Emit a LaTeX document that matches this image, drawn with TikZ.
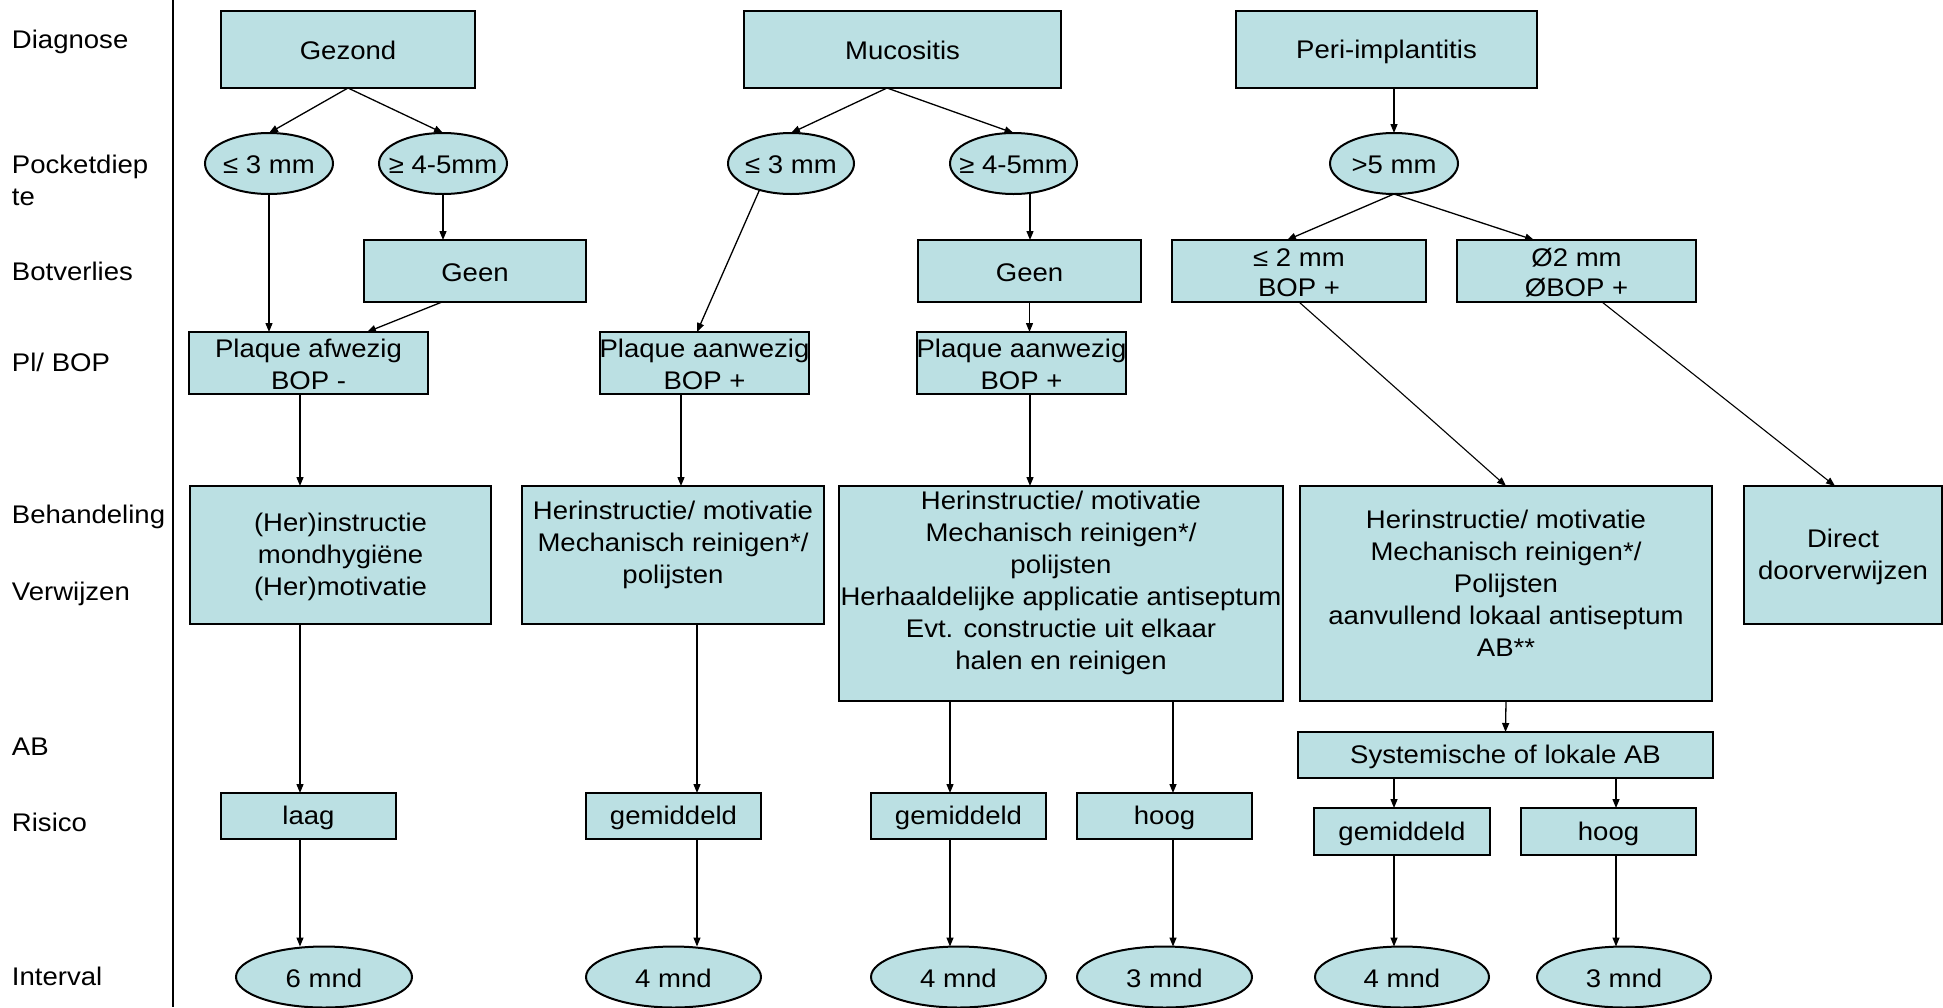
\documentclass[tikz,border=0pt]{standalone}
\usepackage{fontspec}
\setmainfont{Liberation Sans}[FakeStretch=1.08]
\usetikzlibrary{arrows.meta,shapes.geometric}
\definecolor{boxfill}{HTML}{BBE0E3}
\newcommand{\ovtxt}[1]{\makebox[0pt]{#1}}
\newcommand{\topstrut}{\rule[-3pt]{0pt}{26pt}}
\newcommand{\botstrut}{\rule[-3pt]{0pt}{0pt}}
\begin{document}
\begin{tikzpicture}[x=1pt,y=-1pt,
  font=\fontsize{25.5}{32}\selectfont,
  every node/.style={inner sep=0pt, outer sep=0pt, execute at begin node=\topstrut, execute at end node=\botstrut},
  box/.style={draw=black, line width=2pt, fill=boxfill, rectangle, align=center},
  oval/.style={draw=black, line width=2pt, fill=boxfill, ellipse, align=center},
  lab/.style={anchor=west, align=left},
  txt/.style={align=center},
  arr/.style={-{Triangle[length=9pt,width=7pt]}, line width=1.3pt},
  thinarr/.style={-{Triangle[length=9pt,width=7pt]}, line width=1.1pt}]
\fill[white] (0,0) rectangle (1943,1007);
\useasboundingbox (0,0) rectangle (1943,1007);

% row labels
\node[lab] (lDiag) at (12,40) {Diagnose};
\node[lab] (lPock) at (12,179) {\topstrut Pocketdiep\\te};
\node[lab] (lBot) at (12,270) {Botverlies};
\node[lab] (lPl) at (12,361) {Pl/ BOP};
\node[lab] (lBeh) at (12,515) {Behandeling};
\node[lab] (lVer) at (12,592) {Verwijzen};
\node[lab] (lAB) at (12,745) {AB};
\node[lab] (lRis) at (12,821) {Risico};
\node[lab] (lInt) at (12,975) {Interval};
\draw[line width=2pt] (173,0) -- (173,1007);

% column 1: Gezond
\node[box, minimum width=254, minimum height=77] (gez) at (348,49.5) {Gezond};
\node[oval, minimum width=128, minimum height=61] (e1a) at (269,163.5) {\ovtxt{≤ 3 mm}};
\node[oval, minimum width=128, minimum height=61] (e1b) at (443,163.5) {\ovtxt{≥ 4-5mm}};
\node[box, minimum width=222, minimum height=62] (geen1) at (475,271) {Geen};
\node[box, minimum width=239, minimum height=62] (pl1) at (308.5,363) {\topstrut Plaque afwezig\\BOP -};
\node[box, minimum width=301, minimum height=138] (beh1) at (340.5,555) {\topstrut (Her)instructie\\mondhygiëne\\(Her)motivatie};
\node[box, minimum width=175, minimum height=46] (laag) at (308.5,816) {laag};
\node[oval, minimum width=176, minimum height=61] (i1) at (324,977) {\ovtxt{6 mnd}};

% column 2: Mucositis
\node[box, minimum width=317, minimum height=77] (muc) at (902.5,49.5) {Mucositis};
\node[oval, minimum width=126, minimum height=61] (e2a) at (791,163.5) {\ovtxt{≤ 3 mm}};
\node[oval, minimum width=127, minimum height=61] (e2b) at (1013.5,163.5) {\ovtxt{≥ 4-5mm}};
\node[box, minimum width=223, minimum height=62] (geen2) at (1029.5,271) {Geen};
\node[box, minimum width=207, minimum height=62] (pl2a) at (704.5,363) {\topstrut Plaque aanwezig\\BOP +};
\node[box, minimum width=207, minimum height=62] (pl2b) at (1021.5,363) {\topstrut Plaque aanwezig\\BOP +};
\node[box, minimum width=302, minimum height=138] (beh2) at (673,555) {};
\node[txt] (beh2t) at (673,545) {Herinstructie/ motivatie\\Mechanisch reinigen*/\\polijsten};
\node[box, minimum width=444, minimum height=215] (beh3) at (1061,593.5) {};
\node[txt] (beh3t) at (1061,583) {Herinstructie/ motivatie\\Mechanisch reinigen*/\\polijsten\\Herhaaldelijke applicatie antiseptum\\Evt. constructie uit elkaar\\halen en reinigen};
\node[box, minimum width=175, minimum height=46] (gem2) at (673.5,816) {gemiddeld};
\node[box, minimum width=175, minimum height=46] (gem3) at (958.5,816) {gemiddeld};
\node[box, minimum width=175, minimum height=46] (hoog3) at (1164.5,816) {hoog};
\node[oval, minimum width=175, minimum height=61] (i2) at (673.5,977) {\ovtxt{4 mnd}};
\node[oval, minimum width=175, minimum height=61] (i3) at (958.5,977) {\ovtxt{4 mnd}};
\node[oval, minimum width=175, minimum height=61] (i4) at (1164.5,977) {\ovtxt{3 mnd}};

% column 3: Peri-implantitis
\node[box, minimum width=301, minimum height=77] (peri) at (1386.5,49.5) {Peri-implantitis};
\node[oval, minimum width=128, minimum height=61] (e3) at (1394,163.5) {\ovtxt{>5 mm}};
\node[box, minimum width=254, minimum height=62, font=\fontsize{25.5}{30}\selectfont] (b4a) at (1299,271) {\topstrut ≤ 2 mm\\BOP +};
\node[box, minimum width=239, minimum height=62, font=\fontsize{25.5}{30}\selectfont] (b4b) at (1576.5,271) {\topstrut Ø2 mm\\ØBOP +};
\node[box, minimum width=412, minimum height=215] (beh4) at (1506,593.5) {};
\node[txt] (beh4t) at (1506,582) {\topstrut Herinstructie/ motivatie\\Mechanisch reinigen*/\\Polijsten\\aanvullend lokaal antiseptum\\AB**};
\node[box, minimum width=198, minimum height=138] (dir) at (1843,555) {\topstrut Direct\\doorverwijzen};
\node[box, minimum width=415, minimum height=46] (sys) at (1505.5,755) {Systemische of lokale AB};
\node[box, minimum width=176, minimum height=47] (gem4) at (1402,831.5) {gemiddeld};
\node[box, minimum width=175, minimum height=47] (hoog4) at (1608.5,831.5) {hoog};
\node[oval, minimum width=174, minimum height=61] (i5) at (1402,977) {\ovtxt{4 mnd}};
\node[oval, minimum width=174, minimum height=61] (i6) at (1624,977) {\ovtxt{3 mnd}};

% connectors column 1
\draw[arr] (gez.south) -- (e1a.north);
\draw[arr] (gez.south) -- (e1b.north);
\draw[arr] (e1a.south) -- (e1a.south |- pl1.north);
\draw[arr] (e1b.south) -- (e1b.south |- geen1.north);
\draw[arr] ([xshift=-33pt]geen1.south) -- ([xshift=58.5pt]pl1.north);
\draw[arr] ([xshift=-8.5pt]pl1.south) -- ([xshift=-8.5pt]pl1.south |- beh1.north);
\draw[arr] ([xshift=-40.5pt]beh1.south) -- ([xshift=-40.5pt]beh1.south |- laag.north);
\draw[arr] ([xshift=-8.5pt]laag.south) -- ([xshift=-8.5pt]laag.south |- i1.north);

% connectors column 2
\draw[arr] ([xshift=-15.5pt]muc.south) -- (e2a.north);
\draw[arr] ([xshift=-15.5pt]muc.south) -- (e2b.north);
\draw[arr] (e2a.220) -- ([xshift=-7.5pt]pl2a.north);
\draw[arr] ([xshift=16.5pt]e2b.south) -- ([xshift=16.5pt]e2b.south |- geen2.north);
\draw[arr] (geen2.south) -- (geen2.south |- pl2b.north);
\draw[arr] ([xshift=8.5pt]pl2b.south) -- ([xshift=8.5pt]pl2b.south |- beh3.north);
\draw[arr] ([xshift=-23.5pt]pl2a.south) -- ([xshift=-23.5pt]pl2a.south |- beh2.north);
\draw[arr] ([xshift=24pt]beh2.south) -- ([xshift=24pt]beh2.south |- gem2.north);
\draw[arr] ([xshift=23.5pt]gem2.south) -- ([xshift=23.5pt]gem2.south |- i2.north);
\draw[arr] ([xshift=-111pt]beh3.south) -- ([xshift=-111pt]beh3.south |- gem3.north);
\draw[arr] ([xshift=-8.5pt]gem3.south) -- ([xshift=-8.5pt]gem3.south |- i3.north);
\draw[arr] ([xshift=112pt]beh3.south) -- ([xshift=112pt]beh3.south |- hoog3.north);
\draw[arr] ([xshift=8.5pt]hoog3.south) -- ([xshift=8.5pt]hoog3.south |- i4.north);

% connectors column 3
\draw[arr] ([xshift=7.5pt]peri.south) -- ([xshift=7.5pt]peri.south |- e3.north);
\draw[arr] (e3.south) -- ([xshift=-12pt]b4a.north);
\draw[arr] (e3.south) -- ([xshift=-42.5pt]b4b.north);
\draw[thinarr] (b4a.south) -- (beh4.north);
\draw[thinarr] ([xshift=25.5pt]b4b.south) -- ([xshift=-8pt]dir.north);
\draw[arr] (beh4.south) -- (sys.north);
\draw[arr] ([xshift=-111.5pt]sys.south) -- ([xshift=-111.5pt]sys.south |- gem4.north);
\draw[arr] ([xshift=-8pt]gem4.south) -- ([xshift=-8pt]gem4.south |- i5.north);
\draw[arr] ([xshift=110.5pt]sys.south) -- ([xshift=110.5pt]sys.south |- hoog4.north);
\draw[arr] ([xshift=7.5pt]hoog4.south) -- ([xshift=7.5pt]hoog4.south |- i6.north);
\end{tikzpicture}
\end{document}
